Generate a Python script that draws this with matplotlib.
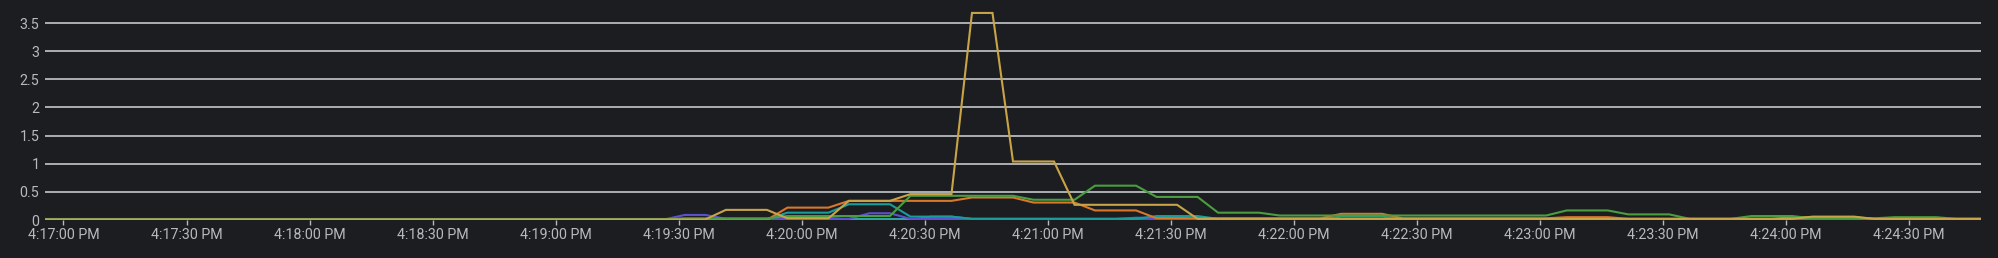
import numpy as np
import pandas as pd
import matplotlib
matplotlib.use("Agg")
import matplotlib.pyplot as plt
import matplotlib.dates as mdates

# === Data (seconds after 4:17:00 PM, value) ===
day = "2024-01-01 "
start = pd.Timestamp(day + "16:17:00")

yellow_t = [-4.5, 156.5, 161.5, 171.5, 176.5, 186.5, 191.5, 201.5, 206.5, 216.5, 221.5, 226.5,
            231.5, 241.5, 246.5, 271.5, 276.5, 421.5, 426.5, 436.5, 441.5, 467.5]
yellow_v = [0.01, 0.01, 0.18, 0.18, 0.03, 0.03, 0.34, 0.34, 0.46, 0.46, 3.68, 3.68,
            1.04, 1.04, 0.27, 0.27, 0.02, 0.02, 0.06, 0.06, 0.02, 0.02]

orange_t = [-4.5, 171.5, 176.5, 186.5, 191.5, 216.5, 221.5, 231.5, 236.5, 246.5, 251.5, 261.5,
            266.5, 306.5, 311.5, 321.5, 326.5, 361.5, 366.5, 376.5, 381.5, 416.5, 421.5, 436.5,
            441.5, 467.5]
orange_v = [0.0, 0.0, 0.22, 0.22, 0.34, 0.34, 0.40, 0.40, 0.31, 0.31, 0.17, 0.17,
            0.03, 0.03, 0.11, 0.11, 0.03, 0.03, 0.05, 0.05, 0.02, 0.02, 0.05, 0.05,
            0.02, 0.02]

green_t = [-4.5, 146.5, 151.5, 171.5, 176.5, 201.5, 206.5, 231.5, 236.5, 246.5, 251.5, 261.5,
           266.5, 276.5, 281.5, 291.5, 296.5, 361.5, 366.5, 376.5, 381.5, 391.5, 396.5, 406.5,
           411.5, 421.5, 426.5, 441.5, 446.5, 456.5, 461.5, 467.5]
green_v = [0.01, 0.01, 0.03, 0.03, 0.07, 0.07, 0.43, 0.43, 0.36, 0.36, 0.61, 0.61,
           0.41, 0.41, 0.13, 0.13, 0.08, 0.08, 0.17, 0.17, 0.10, 0.10, 0.02, 0.02,
           0.07, 0.07, 0.03, 0.03, 0.05, 0.05, 0.02, 0.02]

teal_t = [-4.5, 171.5, 176.5, 186.5, 191.5, 201.5, 206.5, 216.5, 221.5, 261.5, 266.5, 276.5,
          281.5, 306.5, 311.5, 321.5, 326.5, 467.5]
teal_v = [0.01, 0.01, 0.13, 0.13, 0.28, 0.28, 0.06, 0.06, 0.02, 0.02, 0.07, 0.07,
          0.02, 0.02, 0.06, 0.06, 0.02, 0.02]

purple_t = [-4.5, 146.5, 151.5, 156.5, 161.5, 191.5, 196.5, 201.5, 206.5, 467.5]
purple_v = [0.01, 0.01, 0.09, 0.09, 0.02, 0.02, 0.12, 0.12, 0.02, 0.01]

blue_t = [-4.5, 206.5, 211.5, 216.5, 221.5, 256.5, 261.5, 271.5, 276.5, 467.5]
blue_v = [0.0, 0.0, 0.06, 0.06, 0.02, 0.02, 0.04, 0.04, 0.01, 0.01]

lavender_t = [-4.5, 171.5, 176.5, 186.5, 191.5, 261.5, 266.5, 276.5, 281.5, 467.5]
lavender_v = [0.0, 0.0, 0.03, 0.03, 0.01, 0.01, 0.02, 0.02, 0.0, 0.0]

cyan_t = [-4.5, 467.5]
cyan_v = [0.01, 0.01]

tick_labels = ["4:17:00 PM", "4:17:30 PM", "4:18:00 PM", "4:18:30 PM", "4:19:00 PM",
               "4:19:30 PM", "4:20:00 PM", "4:20:30 PM", "4:21:00 PM", "4:21:30 PM",
               "4:22:00 PM", "4:22:30 PM", "4:23:00 PM", "4:23:30 PM", "4:24:00 PM",
               "4:24:30 PM"]
y_ticks = [0, 0.5, 1, 1.5, 2, 2.5, 3, 3.5]
y_labels = ["0", "0.5", "1", "1.5", "2", "2.5", "3", "3.5"]

# === Style ===
bg = "#1b1d21"
grid_col = "#b8bbbe"
text_col = "#b8bbbe"
plt.rcParams["font.family"] = ["Roboto", "DejaVu Sans"]

series = [
    (lavender_t, lavender_v, "#a18fdc"),
    (blue_t, blue_v, "#2b7bd4"),
    (cyan_t, cyan_v, "#2fa3a3"),
    (purple_t, purple_v, "#5b50d0"),
    (teal_t, teal_v, "#1a9c98"),
    (orange_t, orange_v, "#d9772b"),
    (green_t, green_v, "#4a9e3f"),
    (yellow_t, yellow_v, "#c9a447"),
]


def to_time(secs):
    return start + pd.to_timedelta(np.asarray(secs), unit="s")


fig = plt.figure(figsize=(19.99, 2.58), dpi=100, facecolor=bg)
ax = fig.add_axes([45 / 1999, 38 / 258, 1936 / 1999, 211 / 258])
ax.set_facecolor(bg)

for t, v, c in series:
    ax.plot(to_time(t), v, color=c, lw=1.5, solid_joinstyle="miter", zorder=3)

ax.set_xlim(to_time([yellow_t[0]])[0], to_time([yellow_t[-1]])[0])
ax.set_ylim(0, 3.75)

ax.set_yticks(y_ticks)
ax.set_yticklabels(y_labels)
ax.grid(axis="y", color=grid_col, lw=1.3, zorder=1)

tick_times = pd.to_datetime([day + s for s in tick_labels], format="%Y-%m-%d %I:%M:%S %p")
ax.set_xticks(mdates.date2num(tick_times))
ax.set_xticklabels(tick_labels)

for s in ax.spines.values():
    s.set_visible(False)
ax.tick_params(axis="y", length=0, pad=4, colors=text_col, labelsize=10.3)
ax.tick_params(axis="x", length=3.6, width=1, pad=2.5, color=grid_col, colors=text_col,
               labelsize=10.3)

fig.savefig("out.png", dpi=100, facecolor=bg)
